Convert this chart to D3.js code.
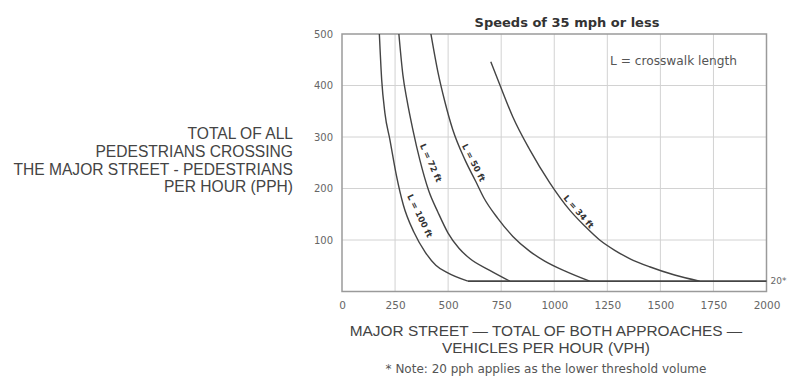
<!DOCTYPE html>
<html>
<head>
<meta charset="utf-8">
<script src="https://cdn.jsdelivr.net/npm/d3@7"></script>
<style>
  html, body { margin: 0; padding: 0; background: #fff; }
  svg { display: block; font-family: "Liberation Sans", Arial, sans-serif; }
</style>
</head>
<body>
<svg id="chart" width="788" height="377"></svg>
<script>
// ---- data ----
const xTicks = [0, 250, 500, 750, 1000, 1250, 1500, 1750, 2000];
const yTicks = [100, 200, 300, 400, 500];

const seriesNames = ["L = 100 ft", "L = 72 ft", "L = 50 ft", "L = 34 ft"];

const vph100 = [176, 187, 202, 226, 256, 289, 339, 391, 442, 494, 593];
const pph100 = [500, 411, 347, 294, 226, 168, 115, 77, 51, 37, 20];

const vph72 = [268, 287, 306, 334, 367, 409, 452, 499, 551, 602, 696, 791];
const pph72 = [500, 420, 372, 314, 255, 195, 154, 114, 84, 64, 41, 20];

const vph50 = [419, 452, 485, 522, 579, 631, 668, 734, 805, 885, 955, 1049, 1167];
const pph50 = [500, 426, 368, 314, 256, 213, 182, 142, 107, 78, 59, 40, 20];

const vph34 = [701, 744, 805, 885, 979, 1073, 1144, 1214, 1285, 1355, 1449, 1567, 1685];
const pph34 = [446, 401, 339, 275, 211, 158, 127, 100, 80, 64, 48, 32, 20];

const thresholdPph = 20;
const thresholdStart = 593;
const thresholdEnd = 2000;

// ---- layout ----
const svg = d3.select("#chart");
const pL = 342, pR = 766.5, pT = 34, pB = 291.5;
const wide = "'DejaVu Sans', Verdana, sans-serif";
const narrow = "'Liberation Sans', Arial, sans-serif";

const x = d3.scaleLinear().domain([0, 2000]).range([pL, pR]);
const y = d3.scaleLinear().domain([0, 500]).range([pB, pT]);

// grid
const grid = svg.append("g");
grid.selectAll("line.v").data(xTicks.slice(1, -1)).join("line")
  .attr("x1", d => x(d)).attr("x2", d => x(d))
  .attr("y1", pT).attr("y2", pB)
  .attr("stroke", "#d2d2d2").attr("stroke-width", 1);
grid.selectAll("line.h").data(yTicks.slice(0, -1)).join("line")
  .attr("x1", pL).attr("x2", pR)
  .attr("y1", d => y(d)).attr("y2", d => y(d))
  .attr("stroke", "#d2d2d2").attr("stroke-width", 1);

// frame
svg.append("rect")
  .attr("x", pL).attr("y", pT)
  .attr("width", pR - pL).attr("height", pB - pT)
  .attr("fill", "none").attr("stroke", "#9a9a9a").attr("stroke-width", 1.5);

// axes (labels only)
const xAxis = svg.append("g")
  .attr("transform", `translate(0,${pB + 10})`)
  .call(d3.axisBottom(x).tickValues(xTicks).tickFormat(d3.format("d")).tickSize(0).tickPadding(0));
xAxis.select(".domain").remove();
xAxis.selectAll("text")
  .attr("font-family", wide)
  .attr("font-size", 10.5).attr("fill", "#666");

const yAxis = svg.append("g")
  .attr("transform", `translate(${pL - 9},0)`)
  .call(d3.axisLeft(y).tickValues(yTicks).tickFormat(d3.format("d")).tickSize(0).tickPadding(0));
yAxis.select(".domain").remove();
yAxis.selectAll("text")
  .attr("font-family", wide)
  .attr("font-size", 10).attr("fill", "#666");

// curves
const line = d3.line().x(d => x(d[0])).y(d => y(d[1])).curve(d3.curveMonotoneX);
const curves = [
  d3.zip(vph100, pph100),
  d3.zip(vph72, pph72),
  d3.zip(vph50, pph50),
  d3.zip(vph34, pph34)
];
svg.append("g").selectAll("path").data(curves).join("path")
  .attr("d", line)
  .attr("fill", "none").attr("stroke", "#444").attr("stroke-width", 1.4);

// threshold line at 20 pph
svg.append("line")
  .attr("x1", x(thresholdStart)).attr("x2", x(thresholdEnd))
  .attr("y1", y(thresholdPph)).attr("y2", y(thresholdPph))
  .attr("stroke", "#444").attr("stroke-width", 1.8);
svg.append("text")
  .attr("x", x(thresholdEnd) + 4).attr("y", y(thresholdPph) + 3)
  .attr("font-family", wide)
  .attr("font-size", 9).attr("fill", "#666")
  .text(thresholdPph + "*");

// curve labels (anchor in data units, angle in degrees)
const labelPos = [
  { vph: 367, pph: 147, angle: 64 },
  { vph: 419, pph: 250, angle: 66 },
  { vph: 621, pph: 250, angle: 63 },
  { vph: 1115, pph: 155, angle: 49 }
];
svg.append("g").selectAll("text").data(seriesNames).join("text")
  .attr("transform", (d, i) => `translate(${x(labelPos[i].vph)},${y(labelPos[i].pph)}) rotate(${labelPos[i].angle})`)
  .attr("text-anchor", "middle").attr("dy", "0.35em")
  .attr("font-family", wide)
  .attr("font-size", 8.5).attr("font-weight", "bold").attr("fill", "#333")
  .text(d => d);

// legend note
svg.append("text")
  .attr("x", 610).attr("y", 65)
  .attr("font-family", wide)
  .attr("font-size", 12.2).attr("fill", "#555")
  .text("L = crosswalk length");

// title
svg.append("text")
  .attr("x", 567).attr("y", 27)
  .attr("text-anchor", "middle")
  .attr("font-family", wide)
  .attr("font-size", 13).attr("font-weight", "bold").attr("fill", "#333")
  .text("Speeds of 35 mph or less");

// x axis title
const xTitle = ["MAJOR STREET \u2014 TOTAL OF BOTH APPROACHES \u2014", "VEHICLES PER HOUR (VPH)"];
svg.append("g").selectAll("text").data(xTitle).join("text")
  .attr("x", 546).attr("y", (d, i) => 336 + i * 17)
  .attr("text-anchor", "middle")
  .attr("font-family", narrow)
  .attr("font-size", 15.4).attr("fill", "#444")
  .text(d => d);

svg.append("text")
  .attr("x", 546).attr("y", 373)
  .attr("text-anchor", "middle")
  .attr("font-family", wide)
  .attr("font-size", 12).attr("fill", "#555")
  .text("* Note: 20 pph applies as the lower threshold volume");

// y axis title
const yTitle = ["TOTAL OF ALL", "PEDESTRIANS CROSSING", "THE MAJOR STREET - PEDESTRIANS", "PER HOUR (PPH)"];
svg.append("g").selectAll("text").data(yTitle).join("text")
  .attr("x", 293).attr("y", (d, i) => 139 + i * 17.8)
  .attr("text-anchor", "end")
  .attr("font-family", narrow)
  .attr("font-size", 15.6).attr("fill", "#444")
  .text(d => d);
</script>
</body>
</html>
